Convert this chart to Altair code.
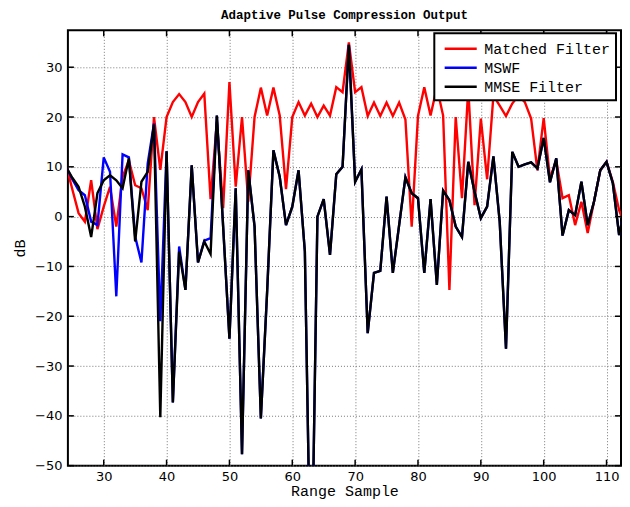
import altair as alt
import pandas as pd

samples = list(range(24, 114))

matched = [10.5, 5.5, 0.7, -1, 7.3, -2.5, 2, 6, -2, 8,
           11.3, 6.3, 5.7, 1.3, 20, 9.4, 20, 23, 24.6, 23,
           20, 23, 24.7, 3.5, 19, 1.7, 27, 6, 20, 3,
           20, 25.9, 20.3, 25.9, 20.3, 5.5, 20, 23, 20.3, 22.7,
           20, 22.3, 20.3, 26, 25, 35, 25, 26, 20.2, 22.9,
           20.2, 22.9, 20.2, 22.9, 19.5, -2, 20.2, 26, 20.3, 26,
           20.3, -14.7, 20, 3.7, 25.7, 2.3, 19.7, 7.5, 24.3, 22.3,
           20.2, 22.7, 24.3, 23, 19.7, 9.3, 19.8, 7.7, 11.3, 3.7,
           4.3, -1.7, 3, -3.3, 3, 9.3, 11, 7, 1.3, -2]

mswf = [10, 7.5, 5.3, 4.3, -1, -1.7, 11.9, 9, -16, 12.5,
        11.9, -4, -9.2, 10.7, 18.7, -21, 13.1, -37.3, -6, -14.7,
        10.3, -9.2, -4.8, -4.3, 20.3, -2, -24.5, 5.7, -47.7, 9.3,
        -2, -40.5, -15, 13.3, 8, -1.7, 2, 9.3, -7, -80,
        0, 3.5, -7.7, 8.5, 10, 34.5, 7, 9.5, -23.4, -11.3,
        -10.9, 4, -11.3, -1.7, 7.9, 4.7, 3.7, -11.3, 3.5, -13.7,
        5.2, 3.3, -2, -4.1, 11, 5, -0.3, 2, 12.1, -1,
        -26.5, 13, 10, 10.5, 10.9, 9.7, 15.8, 6.9, 11.7, -3.8,
        1.3, 0.3, 7, -1.7, 3, 9.3, 11, 6.7, -3.7, 2]

mmse = [10, 7.8, 6, 2, -4.1, 4.7, 7.3, 8.3, 7.3, 5.7,
        11.7, -5, 7, 9, 18.5, -40.3, 13.1, -37.3, -7, -14.7,
        10.3, -9.2, -5, -7.5, 20.3, -2, -24.5, 5.7, -47.7, 9.3,
        -2, -40.5, -15, 13.3, 8, -1.7, 2, 9.3, -7, -80,
        0, 3.5, -7.7, 8.5, 10, 34.5, 7, 9.5, -23.4, -11.3,
        -10.9, 4, -11.3, -1.7, 7.9, 4.7, 3.7, -11.3, 3.5, -13.7,
        5.2, 3.3, -2, -4.1, 11, 5, -0.3, 2, 12.1, -1,
        -26.5, 13, 10, 10.5, 10.9, 9.7, 15.8, 6.9, 11.7, -3.8,
        1.3, 0.3, 7, -1.7, 3, 9.3, 11, 6.7, -3.7, 2]

x_ticks = [30, 40, 50, 60, 70, 80, 90, 100, 110]
y_ticks = [-50, -40, -30, -20, -10, 0, 10, 20, 30]

series_names = ["Matched Filter", "MSWF", "MMSE Filter"]
series_colors = ["#ff0000", "#0000ff", "#000000"]

rows = []
for name, vals in zip(series_names, [matched, mswf, mmse]):
    for s, v in zip(samples, vals):
        rows.append({"sample": s, "dB": v, "series": name})
df = pd.DataFrame(rows)

W, H = 554, 436
MONO = "Liberation Mono"
SANS = "DejaVu Sans"

xscale = alt.Scale(domain=[24.3, 112.3], nice=False, zero=False)
yscale = alt.Scale(domain=[-50, 37.4], nice=False, zero=False)

color = alt.Color(
    "series:N",
    scale=alt.Scale(domain=series_names, range=series_colors),
    legend=alt.Legend(
        orient="none", legendX=367, legendY=3, title=None,
        symbolType="M-0.57,0H3", symbolSize=324, symbolStrokeWidth=2.5,
        labelFont=MONO, labelFontSize=15, labelColor="black",
        strokeColor="black", fillColor="white", padding=5,
        rowPadding=0, labelOffset=24, cornerRadius=0, labelLimit=300,
    ),
)

x_axis = alt.Axis(values=x_ticks, title="Range Sample", titleFont=MONO,
                  titleFontSize=15, titleFontWeight="normal", titlePadding=0,
                  titleColor="black",
                  labelFont=SANS, labelFontSize=13, labelColor="black",
                  labelPadding=5, tickSize=0, domain=False, grid=True,
                  gridDash=[1, 2], gridColor="#777", gridWidth=1)
y_axis = alt.Axis(values=y_ticks, title="dB", titleFont=MONO,
                  titleFontSize=15, titleFontWeight="normal", titlePadding=7,
                  titleColor="black",
                  labelFont=SANS, labelFontSize=13, labelColor="black",
                  labelPadding=6, tickSize=0, domain=False, grid=True,
                  gridDash=[1, 2], gridColor="#777", gridWidth=1)

base = alt.Chart(df)
layers = []
for name in series_names:
    layers.append(
        base.transform_filter(alt.datum.series == name)
        .mark_line(clip=True, strokeWidth=2.4)
        .encode(
            x=alt.X("sample:Q", scale=xscale, axis=x_axis),
            y=alt.Y("dB:Q", scale=yscale, axis=y_axis),
            color=color,
        )
    )

xt = alt.Chart(pd.DataFrame({"t": x_ticks}))
yt = alt.Chart(pd.DataFrame({"t": y_ticks}))
tick_style = dict(color="black", strokeWidth=1.5)
ticks = [
    xt.mark_rule(**tick_style).encode(x=alt.X("t:Q", scale=xscale, axis=x_axis),
                                      y=alt.value(H), y2=alt.value(H - 6)),
    xt.mark_rule(**tick_style).encode(x=alt.X("t:Q", scale=xscale, axis=x_axis),
                                      y=alt.value(0), y2=alt.value(6)),
    yt.mark_rule(**tick_style).encode(y=alt.Y("t:Q", scale=yscale, axis=y_axis),
                                      x=alt.value(0), x2=alt.value(6)),
    yt.mark_rule(**tick_style).encode(y=alt.Y("t:Q", scale=yscale, axis=y_axis),
                                      x=alt.value(W), x2=alt.value(W - 6)),
]

chart = (
    alt.layer(*layers, *ticks)
    .properties(
        width=W, height=H,
        title=alt.TitleParams("Adaptive Pulse Compression Output", font=MONO,
                              fontSize=12.5, fontWeight="bold", anchor="middle",
                              offset=8, color="black"),
        padding={"left": 4, "top": 0, "right": 0, "bottom": 0},
        background="white",
    )
    .configure_view(stroke="black", strokeWidth=2)
    .configure_legend(strokeWidth=2)
)

chart.save("out.html", embed_options={"renderer": "svg", "actions": False})
